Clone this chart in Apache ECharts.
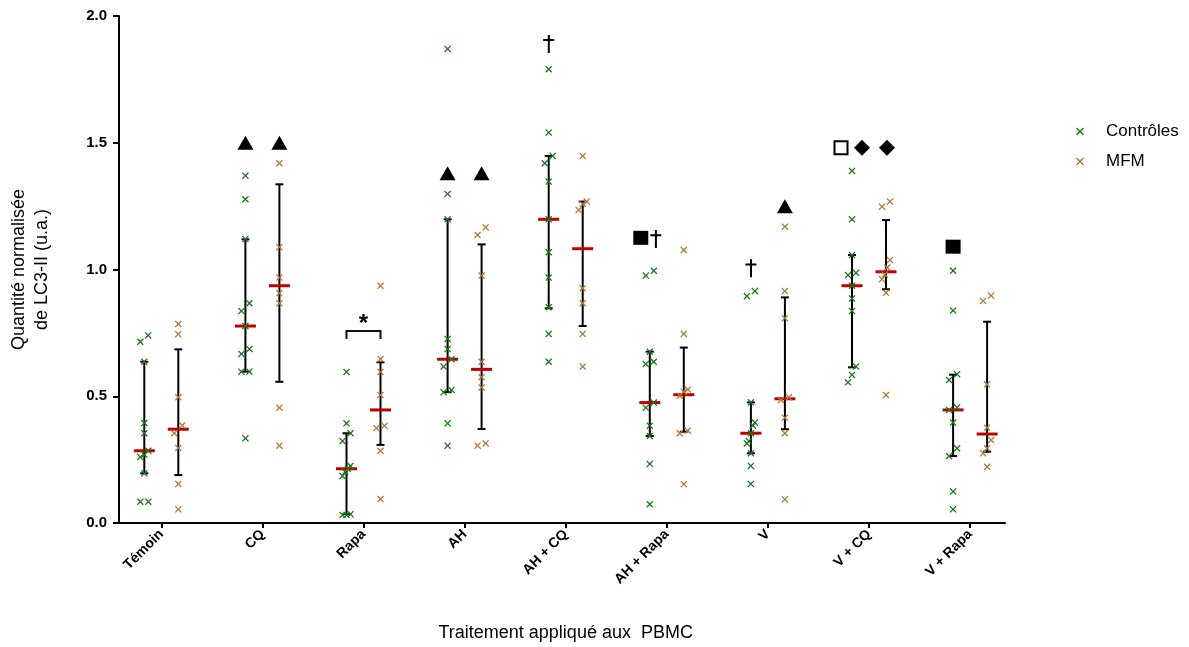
<!DOCTYPE html>
<html><head><meta charset="utf-8">
<script src="https://cdn.jsdelivr.net/npm/echarts@6/dist/echarts.min.js"></script>
<style>html,body{margin:0;padding:0;background:#fff}#c{width:1189px;height:647px}</style>
</head><body><div id="c"></div>
<script>
// ---------- DATA ----------
const categories = ['Témoin','CQ','Rapa','AH','AH + CQ','AH + Rapa','V','V + CQ','V + Rapa'];
const seriesNames = ['Contrôles','MFM'];

const controlsValues = [
  [0.74,0.715,0.636,0.394,0.354,0.285,0.27,0.26,0.196,0.084,0.084],
  [1.37,1.277,1.12,0.867,0.836,0.777,0.686,0.667,0.597,0.597,0.334],
  [0.596,0.393,0.354,0.323,0.225,0.214,0.202,0.185,0.035,0.032,0.032],
  [1.87,1.298,1.198,0.726,0.686,0.646,0.617,0.525,0.516,0.393,0.305],
  [1.79,1.54,1.448,1.419,1.347,1.198,1.068,0.968,0.851,0.746,0.636],
  [0.995,0.976,0.676,0.636,0.627,0.475,0.455,0.384,0.343,0.233,0.074],
  [0.915,0.895,0.476,0.396,0.384,0.354,0.323,0.314,0.275,0.225,0.154],
  [1.389,1.198,1.057,0.987,0.978,0.936,0.886,0.836,0.617,0.584,0.555],
  [0.995,0.838,0.587,0.564,0.456,0.446,0.396,0.295,0.264,0.124,0.054]
];
const mfmValues = [
  [0.785,0.745,0.496,0.385,0.354,0.296,0.154,0.054],
  [1.419,1.088,0.968,0.906,0.867,0.455,0.305],
  [0.936,0.647,0.596,0.505,0.384,0.374,0.285,0.095],
  [1.166,1.136,0.976,0.636,0.575,0.535,0.314,0.305],
  [1.448,1.268,1.258,1.235,0.926,0.867,0.746,0.617],
  [1.077,0.746,0.527,0.518,0.502,0.364,0.354,0.153],
  [1.169,0.915,0.808,0.496,0.485,0.415,0.354,0.093],
  [1.268,1.248,1.037,1.008,0.98,0.962,0.908,0.505],
  [0.897,0.876,0.547,0.376,0.327,0.295,0.275,0.222]
];

// medians and interquartile ranges
const controlsMedian = [0.285,0.777,0.214,0.646,1.198,0.475,0.354,0.936,0.446];
const controlsQ1     = [0.196,0.597,0.035,0.516,0.847,0.343,0.275,0.614,0.264];
const controlsQ3     = [0.636,1.119,0.354,1.198,1.448,0.676,0.476,1.057,0.585];
const mfmMedian = [0.37,0.936,0.446,0.606,1.082,0.506,0.49,0.991,0.351];
const mfmQ1     = [0.189,0.557,0.308,0.371,0.777,0.36,0.37,0.922,0.281];
const mfmQ3     = [0.685,1.336,0.634,1.099,1.268,0.692,0.89,1.195,0.794];

const yTicks = [0,0.5,1.0,1.5,2.0];

// significance annotations: [category, subgroup, value, kind]
const annotations = [
  [1,0,1.50,'triangle'],[1,1,1.50,'triangle'],
  [3,0,1.38,'triangle'],[3,1,1.38,'triangle'],
  [4,0,1.89,'dagger'],
  [5,0,1.125,'square'],[5,0,1.12,'daggerR'],
  [6,0,1.005,'dagger'],[6,1,1.25,'triangle'],
  [7,0,1.48,'openSquare'],[7,0,1.48,'diamondR'],[7,1,1.48,'diamond'],
  [8,0,1.09,'squareC']
];
// bracket: [category, top value, leg value, text]
const brackets = [[2,0.757,0.726,'*']];

// ---------- LAYOUT ----------
const GRID_L = 119, GRID_R = 1005, GRID_T = 16, GRID_B = 523;
const FIRST_CENTER = 161.3;
const PX_PER_UNIT = 101.1;
const X_MIN = -(FIRST_CENTER - GRID_L) / PX_PER_UNIT;
const X_MAX = (GRID_R - FIRST_CENTER) / PX_PER_UNIT;
const SUB = 17 / PX_PER_UNIT;
const colX = (c, s) => c + (s === 0 ? -SUB : SUB);
const GREEN = '#167a16', BROWN = '#b07a35', RED = '#c00000';
const FONT = '"Liberation Sans", Arial, sans-serif';
const XPATH = 'path://M0,1.3 L1.3,0 L5,3.7 L8.7,0 L10,1.3 L6.3,5 L10,8.7 L8.7,10 L5,6.3 L1.3,10 L0,8.7 L3.7,5 Z';
const DAGGER = 'path://M4.6,0 H6.6 V4.2 H11 V6.2 H6.6 V18 H4.6 V6.2 H0 V4.2 H4.6 Z';

function jitterPx(values){
  const idx = values.map((v,i)=>i).sort((a,b)=>values[a]-values[b]);
  const off = new Array(values.length).fill(0);
  let i = 0;
  while (i < idx.length){
    let j = i;
    while (j+1 < idx.length && values[idx[j+1]] - values[idx[j]] < 0.035) j++;
    const n = j - i + 1;
    if (n > 1){
      const step = n === 2 ? 8 : 8/(n-1);
      for (let k = 0; k < n; k++) off[idx[i+k]] = (k - (n-1)/2) * step;
    }
    i = j + 1;
  }
  return off;
}
function pointsFor(groups, sub){
  const out = [];
  groups.forEach((vals, c) => {
    const off = jitterPx(vals);
    vals.forEach((v, k) => out.push([colX(c, sub) + off[k]/PX_PER_UNIT, v]));
  });
  return out;
}
function summaryFor(sub, med, q1, q3){
  return categories.map((_, c) => [colX(c, sub), q1[c], q3[c], med[c]]);
}

const errRender = (params, api) => {
  const x = api.value(0);
  const lo = api.coord([x, api.value(1)]);
  const hi = api.coord([x, api.value(2)]);
  const md = api.coord([x, api.value(3)]);
  const ls = {stroke:'#000', lineWidth:2};
  return {type:'group', children:[
    {type:'line', shape:{x1:lo[0], y1:lo[1], x2:hi[0], y2:hi[1]}, style:ls},
    {type:'line', shape:{x1:lo[0]-4, y1:lo[1], x2:lo[0]+4, y2:lo[1]}, style:ls},
    {type:'line', shape:{x1:hi[0]-4, y1:hi[1], x2:hi[0]+4, y2:hi[1]}, style:ls},
    {type:'line', shape:{x1:md[0]-10.5, y1:md[1], x2:md[0]+10.5, y2:md[1]}, style:{stroke:RED, lineWidth:3}}
  ]};
};

const annStyle = {
  triangle:{symbol:'triangle', symbolSize:[16,14], dx:0},
  dagger:{symbol:DAGGER, symbolSize:[11,18], dx:0},
  daggerR:{symbol:DAGGER, symbolSize:[11,18], dx:6},
  square:{symbol:'rect', symbolSize:[15,14], dx:-9},
  squareC:{symbol:'rect', symbolSize:[15,14], dx:0},
  openSquare:{symbol:'rect', symbolSize:[13,13], dx:-11, empty:true},
  diamond:{symbol:'diamond', symbolSize:[16,16], dx:1},
  diamondR:{symbol:'diamond', symbolSize:[16,16], dx:10}
};
const annData = annotations.map(([c, s, v, k]) => {
  const st = annStyle[k];
  return {
    value:[colX(c, s), v], symbol:st.symbol, symbolSize:st.symbolSize, symbolOffset:[st.dx,0],
    itemStyle: st.empty ? {color:'#fff', borderColor:'#000', borderWidth:2, opacity:1} : {color:'#000', opacity:1}
  };
});

const bracketRender = (params, api) => {
  const c = api.value(0);
  const l = api.coord([colX(c,0), api.value(1)]);
  const r = api.coord([colX(c,1), api.value(1)]);
  const legY = api.coord([colX(c,0), api.value(2)])[1];
  return {type:'group', children:[
    {type:'polyline', shape:{points:[[l[0],legY],[l[0],l[1]],[r[0],r[1]],[r[0],legY]]}, style:{stroke:'#111', lineWidth:2, fill:null}},
    {type:'text', style:{text:brackets[params.dataIndex][3], x:(l[0]+r[0])/2, y:l[1]+5, fontSize:24, fontWeight:'bold', fontFamily:FONT, fill:'#000', align:'center', verticalAlign:'bottom'}}
  ]};
};

const chart = echarts.init(document.getElementById('c'), null, {renderer:'canvas'});
chart.setOption({
  animation:false,
  backgroundColor:'#fff',
  textStyle:{fontFamily:FONT},
  grid:[
    {left:GRID_L, right:1189-GRID_R, top:GRID_T, bottom:647-GRID_B},
    {left:FIRST_CENTER - PX_PER_UNIT/2, width:9*PX_PER_UNIT, top:GRID_T, bottom:647-GRID_B}
  ],
  legend:{
    orient:'vertical', left:1071, top:118, itemWidth:8, itemHeight:8, itemGap:13,
    data:seriesNames.map(n=>({name:n, icon:XPATH})),
    textStyle:{fontSize:17, color:'#000', fontFamily:FONT, padding:[0,0,0,17]}
  },
  xAxis:[
    {type:'value', gridIndex:0, min:X_MIN, max:X_MAX,
     axisLine:{show:true, onZero:false, lineStyle:{color:'#000', width:2}}, axisTick:{show:false}, axisLabel:{show:false}, splitLine:{show:false}},
    {type:'category', gridIndex:1, data:categories, boundaryGap:true,
     axisLine:{show:false, onZero:false}, axisTick:{show:true, alignWithLabel:true, length:6, lineStyle:{color:'#000', width:2}},
     axisLabel:{rotate:45, fontSize:14, fontWeight:'bold', color:'#000', margin:10, fontFamily:FONT},
     name:'Traitement appliqué aux  PBMC', nameLocation:'middle', nameGap:102,
     nameTextStyle:{fontSize:18, color:'#000', fontFamily:FONT}, splitLine:{show:false}}
  ],
  yAxis:[
    {type:'value', gridIndex:0, min:yTicks[0], max:yTicks[yTicks.length-1], interval:0.5,
     axisLine:{show:true, onZero:false, lineStyle:{color:'#000', width:2}},
     axisTick:{show:true, length:6, lineStyle:{color:'#000', width:2}},
     axisLabel:{fontSize:15, fontWeight:'bold', color:'#000', margin:12, formatter:v=>v.toFixed(1), fontFamily:FONT},
     splitLine:{show:false},
     name:'Quantité normalisée\nde LC3-II (u.a.)', nameLocation:'middle', nameGap:65,
     nameTextStyle:{fontSize:18, color:'#000', lineHeight:23, fontFamily:FONT}},
    {type:'value', gridIndex:1, show:false, min:0, max:2}
  ],
  series:[
    {type:'custom', name:'errC', xAxisIndex:0, yAxisIndex:0, renderItem:errRender, z:2,
     encode:{x:0, y:[1,2,3]}, data:summaryFor(0, controlsMedian, controlsQ1, controlsQ3)},
    {type:'custom', name:'errM', xAxisIndex:0, yAxisIndex:0, renderItem:errRender, z:2,
     encode:{x:0, y:[1,2,3]}, data:summaryFor(1, mfmMedian, mfmQ1, mfmQ3)},
    {type:'scatter', name:seriesNames[0], xAxisIndex:0, yAxisIndex:0, symbol:XPATH, symbolSize:7, z:4,
     itemStyle:{color:GREEN, opacity:1}, data:pointsFor(controlsValues, 0)},
    {type:'scatter', name:seriesNames[1], xAxisIndex:0, yAxisIndex:0, symbol:XPATH, symbolSize:7, z:4,
     itemStyle:{color:BROWN, opacity:1}, data:pointsFor(mfmValues, 1)},
    {type:'scatter', name:'ann', xAxisIndex:0, yAxisIndex:0, z:5, data:annData, silent:true},
    {type:'custom', name:'bracket', xAxisIndex:0, yAxisIndex:0, renderItem:bracketRender, z:5,
     encode:{x:0, y:[1,2]}, data:brackets.map(b=>[b[0], b[1], b[2]])}
  ]
});
</script></body></html>
